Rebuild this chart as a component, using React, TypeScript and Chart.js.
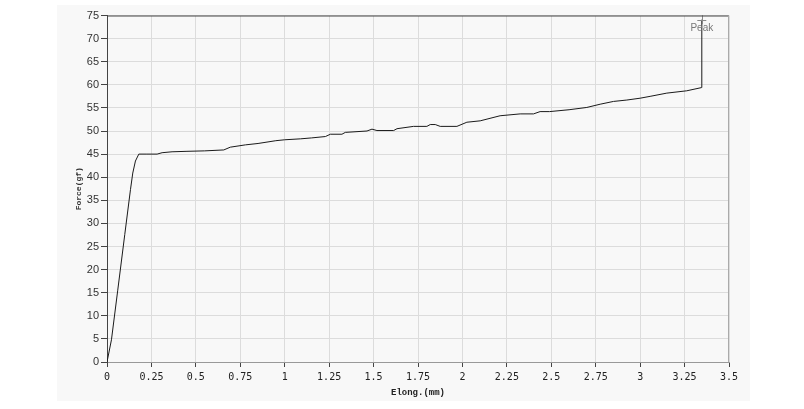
import React, { useEffect, useRef } from "react";
import { Chart, registerables } from "chart.js";

Chart.register(...registerables);

const elong: number[] = [0, 0.025, 0.06, 0.1, 0.132, 0.145, 0.16, 0.179, 0.22, 0.282, 0.31, 0.366, 0.45, 0.55, 0.657, 0.694, 0.779, 0.85, 0.95, 1.0, 1.088, 1.15, 1.229, 1.257, 1.322, 1.341, 1.463, 1.491, 1.519, 1.613, 1.632, 1.725, 1.8, 1.819, 1.847, 1.875, 1.969, 2.025, 2.1, 2.212, 2.325, 2.4, 2.437, 2.49, 2.6, 2.7, 2.775, 2.85, 2.925, 3.0, 3.056, 3.15, 3.262, 3.346, 3.347];
const force: number[] = [0, 4.8, 15.4, 27.6, 37.3, 40.9, 43.5, 45, 45, 45, 45.3, 45.5, 45.6, 45.7, 45.9, 46.5, 47, 47.3, 47.9, 48.1, 48.3, 48.5, 48.8, 49.3, 49.3, 49.7, 50.0, 50.4, 50.1, 50.1, 50.5, 51.0, 51.0, 51.4, 51.4, 51.0, 51.0, 51.9, 52.2, 53.3, 53.7, 53.7, 54.2, 54.2, 54.6, 55.1, 55.8, 56.4, 56.7, 57.1, 57.5, 58.2, 58.7, 59.4, 74.1];
const peakLabel = "Peak";
const xTitle = "Elong.(mm)";
const yTitle = "Force(gf)";

export default function App() {
  const ref = useRef<HTMLCanvasElement | null>(null);
  useEffect(() => {
    if (!ref.current) return;
    const pts = elong.map((x, i) => ({ x, y: force[i] }));
    const peakIdx = force.indexOf(Math.max(...force));
    const peakPlugin = {
      id: "peak",
      afterDatasetsDraw(chart: any) {
        const { ctx, scales, chartArea } = chart;
        const px = scales.x.getPixelForValue(elong[peakIdx]);
        const py = scales.y.getPixelForValue(force[peakIdx]);
        ctx.save();
        ctx.strokeStyle = "#888";
        ctx.lineWidth = 1;
        ctx.beginPath();
        ctx.moveTo(px - 4.5, Math.round(py) + 0.5);
        ctx.lineTo(px + 4.5, Math.round(py) + 0.5);
        ctx.moveTo(Math.round(px) + 0.5, py - 4.5);
        ctx.lineTo(Math.round(px) + 0.5, py + 4.5);
        ctx.stroke();
        ctx.fillStyle = "#777";
        ctx.font = "10px 'Liberation Sans'";
        ctx.textAlign = "center";
        ctx.textBaseline = "middle";
        ctx.fillText(peakLabel, px, py + 9);
        ctx.lineWidth = 1;
        ctx.strokeStyle = "#444";
        ctx.beginPath();
        ctx.moveTo(chartArea.left, chartArea.top + 0.5);
        ctx.lineTo(chartArea.right, chartArea.top + 0.5);
        ctx.stroke();
        ctx.strokeStyle = "#aaa";
        ctx.beginPath();
        ctx.moveTo(chartArea.right - 0.5, chartArea.top);
        ctx.lineTo(chartArea.right - 0.5, chartArea.bottom);
        ctx.stroke();
        ctx.restore();
      },
    };
    const chart = new Chart(ref.current, {
      type: "line",
      data: {
        datasets: [
          {
            data: pts,
            borderColor: "#1a1a1a",
            borderWidth: 1,
            pointRadius: 0,
            tension: 0,
            fill: false,
          },
        ],
      },
      options: {
        responsive: false,
        animation: false,
        layout: { padding: { top: 10.5, right: 21, left: 0, bottom: 0 } },
        plugins: { legend: { display: false }, tooltip: { enabled: false } },
        scales: {
          x: {
            type: "linear",
            min: 0,
            max: 3.5,
            afterFit(scale: any) {
              scale.height = 39;
            },
            ticks: {
              stepSize: 0.25,
              padding: 4,
              color: "#222",
              font: { family: "'DejaVu Sans Mono'", size: 10 },
              callback: (v: any) => String(Number(v)),
              maxRotation: 0,
              autoSkip: false,
            },
            grid: { color: "#dcdcdc", tickColor: "#444", tickLength: 5, lineWidth: 1 },
            border: { color: "#999" },
            title: {
              display: true,
              text: xTitle,
              color: "#222",
              font: { family: "'Liberation Mono'", size: 9, weight: "bold" },
              padding: { top: 0, bottom: 3 },
            },
          },
          y: {
            min: 0,
            max: 75,
            afterFit(scale: any) {
              scale.width = 50;
            },
            ticks: {
              stepSize: 5,
              padding: 2,
              color: "#333",
              font: { family: "'Liberation Sans'", size: 11 },
            },
            grid: { color: "#dcdcdc", tickColor: "#444", tickLength: 6, lineWidth: 1 },
            border: { color: "#444" },
            title: {
              display: true,
              text: yTitle,
              color: "#333",
              font: { family: "'Liberation Mono'", size: 8, weight: "bold" },
              padding: { top: 17, bottom: 0 },
            },
          },
        },
      },
      plugins: [peakPlugin],
    });
    return () => chart.destroy();
  }, []);
  return (
    <div style={{ position: "absolute", left: 0, top: 0, width: 804, height: 409, background: "#fff" }}>
      <div style={{ position: "absolute", left: 57, top: 5, width: 693, height: 396, background: "#f8f8f8" }}>
        <canvas ref={ref} width={693} height={396} style={{ display: "block", width: 693, height: 396 }} />
      </div>
    </div>
  );
}
